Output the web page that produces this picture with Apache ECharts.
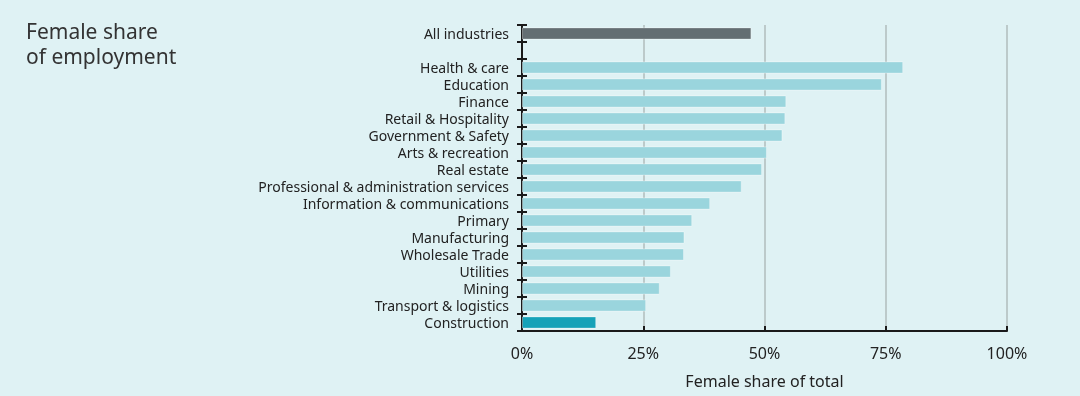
<!DOCTYPE html>
<html>
<head>
<meta charset="utf-8">
<style>
  html, body { margin: 0; padding: 0; background: #dff2f4; }
  #chart { width: 1080px; height: 396px; }
</style>
<script src="https://cdn.jsdelivr.net/npm/echarts@6/dist/echarts.min.js"></script>
</head>
<body>
<div id="chart"></div>
<script>
// categories, top to bottom ('' is the spacer row)
var categories = [
  'All industries', '', 'Health & care', 'Education', 'Finance',
  'Retail & Hospitality', 'Government & Safety', 'Arts & recreation',
  'Real estate', 'Professional & administration services',
  'Information & communications', 'Primary', 'Manufacturing',
  'Wholesale Trade', 'Utilities', 'Mining', 'Transport & logistics',
  'Construction'
]
// female share, %
var shares = [
  47.3, null, 78.6, 74.2, 54.5, 54.3, 53.7, 50.5, 49.5, 45.3,
  38.8, 35.1, 33.5, 33.4, 30.7, 28.4, 25.6, 15.3
]
var tickValues = [0, 25, 50, 75, 100]

var font = 'Noto Sans'
var colorFor = function (name) {
  if (name === 'All industries') return '#636e72'
  if (name === 'Construction') return '#16a2b8'
  return '#9ad5dd'
}

var barData = shares.map(function (v, i) {
  return {
    value: v,
    itemStyle: {
      color: colorFor(categories[i]),
      borderColor: 'rgba(255,255,255,0.35)',
      borderWidth: 1
    }
  }
})

var myChart = echarts.init(document.getElementById('chart'))
var option = {
  backgroundColor: '#dff2f4',
  animation: false,
  title: {
    text: 'Female share\nof employment',
    left: 21,
    top: 16,
    textStyle: {
      fontFamily: font,
      fontWeight: 'normal',
      fontSize: 21,
      lineHeight: 25,
      color: '#333333'
    }
  },
  grid: {
    left: 522,
    right: 73,
    top: 25,
    bottom: 65
  },
  xAxis: {
    type: 'value',
    min: tickValues[0],
    max: tickValues[tickValues.length - 1],
    interval: 25,
    name: 'Female share of total',
    nameLocation: 'middle',
    nameGap: 43,
    nameTextStyle: { fontFamily: font, fontSize: 16, color: '#222222' },
    axisLine: { show: true, lineStyle: { color: '#1a1a1a', width: 2 } },
    axisTick: { show: true, inside: true, length: 5, lineStyle: { color: '#1a1a1a', width: 2 } },
    axisLabel: {
      fontFamily: font,
      fontSize: 16,
      color: '#222222',
      margin: 15,
      formatter: '{value}%'
    },
    splitLine: { show: true, lineStyle: { color: '#bccaca', width: 2 } }
  },
  yAxis: [{
    type: 'category',
    data: categories,
    inverse: true,
    axisLine: { show: true, lineStyle: { color: '#1a1a1a', width: 2 } },
    axisTick: { show: true, length: 5, lineStyle: { color: '#1a1a1a', width: 2 } },
    axisLabel: {
      margin: 13,
      interval: 0,
      formatter: function (v) { return '{t|' + v + '}' },
      rich: {
        t: {
          fontFamily: font,
          fontSize: 14,
          color: '#222222',
          padding: [4, 0, 0, 0]
        }
      }
    },
    splitLine: { show: false }
  }, {
    // same scale, only to draw the inner half of the ticks
    type: 'category',
    data: categories,
    inverse: true,
    position: 'left',
    axisLine: { show: false },
    axisTick: { show: true, inside: true, length: 5, lineStyle: { color: '#1a1a1a', width: 2 } },
    axisLabel: { show: false },
    splitLine: { show: false }
  }],
  series: [{
    type: 'bar',
    data: barData,
    barCategoryGap: '28%',
    z: 3
  }]
}
myChart.setOption(option)
</script>
</body>
</html>
